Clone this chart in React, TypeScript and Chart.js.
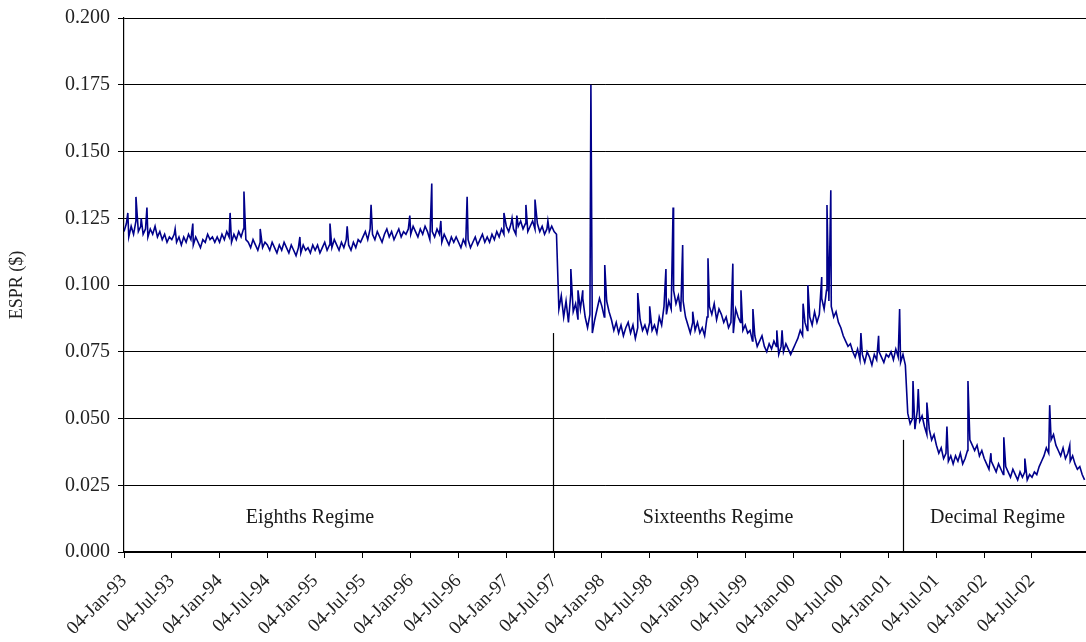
import React, { useEffect, useRef } from "react";
import { Chart, registerables } from "chart.js";

Chart.register(...registerables);

// x-axis tick labels (one every half year)
const tickLabels = [
  "04-Jan-93", "04-Jul-93", "04-Jan-94", "04-Jul-94", "04-Jan-95", "04-Jul-95",
  "04-Jan-96", "04-Jul-96", "04-Jan-97", "04-Jul-97", "04-Jan-98", "04-Jul-98",
  "04-Jan-99", "04-Jul-99", "04-Jan-00", "04-Jul-00", "04-Jan-01", "04-Jul-01",
  "04-Jan-02", "04-Jul-02",
];

// sampling step of the base series, in half-year units
const sampleStep = 0.05;

// ESPR base level, 20 samples per half year
const espr = [
  0.120, 0.123, 0.118, 0.122, 0.119, 0.124, 0.120, 0.122, 0.119, 0.121, 0.118, 0.121, 0.119, 0.122, 0.118, 0.120, 0.117, 0.119, 0.116, 0.118, // Jan-93
  0.117, 0.119, 0.116, 0.118, 0.115, 0.118, 0.116, 0.119, 0.117, 0.115, 0.118, 0.116, 0.114, 0.117, 0.116, 0.119, 0.117, 0.118, 0.116, 0.118, // Jul-93
  0.116, 0.119, 0.117, 0.120, 0.118, 0.116, 0.119, 0.117, 0.120, 0.118, 0.121, 0.117, 0.116, 0.114, 0.117, 0.115, 0.113, 0.116, 0.114, 0.116, // Jan-94
  0.115, 0.113, 0.116, 0.114, 0.112, 0.115, 0.113, 0.116, 0.114, 0.112, 0.115, 0.113, 0.111, 0.114, 0.112, 0.115, 0.113, 0.114, 0.112, 0.115, // Jul-94
  0.113, 0.115, 0.112, 0.114, 0.116, 0.113, 0.115, 0.114, 0.117, 0.115, 0.113, 0.116, 0.114, 0.117, 0.115, 0.113, 0.116, 0.114, 0.117, 0.116, // Jan-95
  0.118, 0.120, 0.117, 0.121, 0.119, 0.117, 0.120, 0.118, 0.116, 0.119, 0.121, 0.118, 0.120, 0.117, 0.119, 0.121, 0.118, 0.120, 0.119, 0.121, // Jul-95
  0.119, 0.122, 0.120, 0.118, 0.121, 0.119, 0.122, 0.120, 0.117, 0.120, 0.118, 0.121, 0.119, 0.116, 0.119, 0.117, 0.115, 0.118, 0.116, 0.118, // Jan-96
  0.116, 0.114, 0.117, 0.115, 0.117, 0.114, 0.116, 0.118, 0.115, 0.117, 0.119, 0.116, 0.118, 0.116, 0.119, 0.117, 0.120, 0.118, 0.121, 0.119, // Jul-96
  0.122, 0.120, 0.123, 0.121, 0.119, 0.122, 0.124, 0.121, 0.123, 0.120, 0.122, 0.124, 0.121, 0.123, 0.120, 0.122, 0.119, 0.121, 0.120, 0.122, // Jan-97
  0.120, 0.119, 0.091, 0.096, 0.088, 0.094, 0.086, 0.097, 0.090, 0.093, 0.087, 0.091, 0.095, 0.088, 0.084, 0.089, 0.082, 0.087, 0.091, 0.095, // Jul-97
  0.092, 0.088, 0.094, 0.090, 0.087, 0.083, 0.086, 0.082, 0.085, 0.081, 0.084, 0.086, 0.082, 0.085, 0.080, 0.084, 0.087, 0.083, 0.085, 0.082, // Jan-98
  0.086, 0.083, 0.085, 0.082, 0.088, 0.085, 0.092, 0.089, 0.094, 0.091, 0.098, 0.093, 0.096, 0.090, 0.094, 0.088, 0.085, 0.082, 0.086, 0.083, // Jul-98
  0.086, 0.082, 0.084, 0.081, 0.088, 0.092, 0.089, 0.093, 0.087, 0.091, 0.089, 0.086, 0.088, 0.084, 0.086, 0.082, 0.091, 0.088, 0.086, 0.083, // Jan-99
  0.085, 0.082, 0.083, 0.079, 0.081, 0.077, 0.079, 0.081, 0.077, 0.075, 0.078, 0.076, 0.079, 0.077, 0.074, 0.077, 0.075, 0.078, 0.076, 0.074, // Jul-99
  0.076, 0.078, 0.080, 0.083, 0.081, 0.086, 0.083, 0.088, 0.085, 0.090, 0.086, 0.089, 0.095, 0.091, 0.098, 0.094, 0.092, 0.088, 0.090, 0.086, // Jan-00
  0.084, 0.081, 0.079, 0.077, 0.078, 0.075, 0.073, 0.076, 0.072, 0.074, 0.071, 0.075, 0.073, 0.070, 0.074, 0.072, 0.075, 0.073, 0.071, 0.074, // Jul-00
  0.073, 0.075, 0.072, 0.076, 0.073, 0.071, 0.074, 0.070, 0.052, 0.048, 0.050, 0.046, 0.053, 0.049, 0.051, 0.047, 0.044, 0.046, 0.042, 0.044, // Jan-01
  0.040, 0.037, 0.039, 0.035, 0.037, 0.034, 0.036, 0.033, 0.036, 0.034, 0.037, 0.033, 0.035, 0.038, 0.042, 0.040, 0.038, 0.040, 0.036, 0.038, // Jul-01
  0.035, 0.033, 0.031, 0.034, 0.032, 0.030, 0.033, 0.031, 0.029, 0.032, 0.030, 0.028, 0.031, 0.029, 0.027, 0.030, 0.028, 0.030, 0.027, 0.029, // Jan-02
  0.028, 0.030, 0.029, 0.032, 0.034, 0.036, 0.039, 0.037, 0.042, 0.044, 0.040, 0.038, 0.036, 0.039, 0.035, 0.037, 0.034, 0.036, 0.033, 0.031, // Jul-02
  0.032, 0.029, 0.027,
];

// single-day spikes: position (half-year units) and value
const spikeAt = [
  0.08, 0.25, 0.36, 0.48, 1.07, 1.44, 2.22, 2.51, 2.85, 3.68, 4.31, 4.67, 5.17, 5.98, 6.44, 6.63, 7.18,
  7.95, 8.12, 8.22, 8.41, 8.60, 8.87,
  9.35, 9.50, 9.60, 9.77, 10.06, 10.75, 11.00, 11.34, 11.49, 11.69, 11.90, 12.22,
  12.74, 12.91, 13.16, 13.66, 13.77, 14.21, 14.31, 14.60, 14.71, 14.79, 15.42,
  15.79, 16.23,
  16.51, 16.62, 16.80, 17.22, 17.66, 18.14, 18.41, 18.85, 19.37, 19.79,
];
const spikeValue = [
  0.127, 0.133, 0.125, 0.129, 0.121, 0.123, 0.127, 0.135, 0.121, 0.118, 0.123, 0.122, 0.130, 0.126, 0.138, 0.124, 0.133,
  0.127, 0.125, 0.126, 0.130, 0.132, 0.124,
  0.106, 0.098, 0.098, 0.175, 0.1075, 0.097, 0.092, 0.106, 0.129, 0.115, 0.090, 0.110,
  0.108, 0.098, 0.091, 0.083, 0.083, 0.093, 0.100, 0.103, 0.130, 0.1355, 0.082,
  0.081, 0.091,
  0.064, 0.061, 0.056, 0.047, 0.064, 0.037, 0.043, 0.035, 0.055, 0.040,
];

// tick-size regimes
const regimeNames = ["Eighths Regime", "Sixteenths Regime", "Decimal Regime"];
const regimeLabelAt = [3.89, 12.43, 18.28];
const regimeLabelValue = 0.0127;
const regimeBreakAt = [8.97, 16.3];
const regimeBreakTop = [0.082, 0.042];

const xMax = 20.13;

const FONT = '"Liberation Serif", "Times New Roman", serif';

export default function App() {
  const ref = useRef<HTMLCanvasElement | null>(null);

  useEffect(() => {
    document.body.style.margin = "0";
    const canvas = ref.current;
    if (!canvas) return;

    const points = espr
      .map((v, i) => ({ x: i * sampleStep, y: v }))
      .concat(spikeAt.map((x, i) => ({ x, y: spikeValue[i] })))
      .sort((a, b) => a.x - b.x);

    const regimePlugin = {
      id: "regimes",
      afterDatasetsDraw(chart: any) {
        const { ctx, scales } = chart;
        const xs = scales.x;
        const ys = scales.y;
        ctx.save();
        ctx.strokeStyle = "#000";
        ctx.lineWidth = 1.2;
        regimeBreakAt.forEach((b, i) => {
          const px = Math.round(xs.getPixelForValue(b)) + 0.5;
          ctx.beginPath();
          ctx.moveTo(px, ys.getPixelForValue(0));
          ctx.lineTo(px, ys.getPixelForValue(regimeBreakTop[i]));
          ctx.stroke();
        });
        ctx.fillStyle = "#1a1a1a";
        ctx.font = `20px ${FONT}`;
        ctx.textAlign = "center";
        ctx.textBaseline = "middle";
        regimeNames.forEach((n, i) => {
          ctx.fillText(n, xs.getPixelForValue(regimeLabelAt[i]), ys.getPixelForValue(regimeLabelValue));
        });
        ctx.restore();
      },
    };

    const chart = new Chart(canvas, {
      type: "line",
      data: {
        datasets: [
          {
            data: points,
            borderColor: "#00008b",
            borderWidth: 1.6,
            pointRadius: 0,
            tension: 0,
            fill: false,
          },
        ],
      },
      options: {
        animation: false,
        responsive: true,
        maintainAspectRatio: false,
        layout: { padding: { top: 18, right: 0, left: 0, bottom: 0 } },
        plugins: { legend: { display: false }, tooltip: { enabled: false } },
        scales: {
          x: {
            type: "linear",
            min: 0,
            max: xMax,
            afterBuildTicks: (s: any) => {
              s.ticks = tickLabels.map((_, i) => ({ value: i }));
            },
            afterFit: (s: any) => {
              s.height = 90;
              s.paddingRight = 0;
            },
            ticks: {
              autoSkip: false,
              maxRotation: 45,
              minRotation: 45,
              padding: 12,
              color: "#222",
              font: { family: FONT, size: 19 },
              callback: (v: any) => tickLabels[Math.round(Number(v))] ?? "",
            },
            grid: {
              drawOnChartArea: false,
              drawTicks: true,
              tickLength: 6,
              color: "#000",
            },
            border: { color: "#000", width: 1.2 },
          },
          y: {
            min: 0,
            max: 0.2,
            afterFit: (s: any) => {
              s.width = 124;
              s.paddingTop = 0;
              s.paddingBottom = 0;
            },
            ticks: {
              stepSize: 0.025,
              padding: 8,
              color: "#222",
              font: { family: FONT, size: 20 },
              callback: (v: any) => Number(v).toFixed(3),
            },
            grid: { color: "#000", lineWidth: 1, tickLength: 6 },
            border: { color: "#000", width: 1.2 },
            title: {
              display: true,
              text: "ESPR ($)",
              color: "#222",
              font: { family: FONT, size: 18 },
              padding: { top: 6, bottom: 0 },
            },
          },
        },
      },
      plugins: [regimePlugin],
    });
    return () => chart.destroy();
  }, []);

  return (
    <div style={{ width: 1086, height: 642, position: "relative", background: "#fff" }}>
      <canvas ref={ref} />
    </div>
  );
}
